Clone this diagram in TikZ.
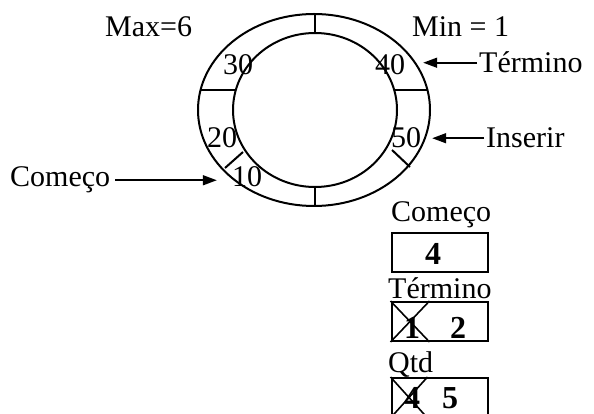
\documentclass[tikz,border=0pt]{standalone}
\usepackage{fontspec}
\setmainfont{Liberation Serif}
\usetikzlibrary{arrows.meta}

\tikzset{
    txt/.style={inner sep=2pt, font=\fontsize{30}{30}\selectfont},
    num/.style={txt, anchor=base},
    val/.style={txt, anchor=base, font=\fontsize{32}{32}\selectfont\bfseries},
    valbox/.style={draw, line width=2pt, minimum width=96pt, minimum height=39pt, inner sep=0pt},
    pointer/.style={line width=1.6pt, -{Triangle[length=14pt,width=10pt]}}
}

\begin{document}
\begin{tikzpicture}[x=1pt, y=-1pt]

        \useasboundingbox (0,0) rectangle (594,414);

        % Anel
        \draw[line width=2pt] (314,110) ellipse (116 and 96);
        \draw[line width=2pt] (315,110) ellipse (82 and 77);

        % Divisoes
        \foreach \xa/\ya/\xb/\yb in {315/14/315/33, 315/187/315/206, 200/90/236/90, 394/90/428/90, 225/168/243/152, 392/150/410/167} {
            \draw[line width=2pt] (\xa,\ya) -- (\xb,\yb);
        }

        % Valores no anel
        \node[num] (n30) at (238,75) {30};
        \node[num] (n40) at (390,75) {40};
        \node[num] (n20) at (222,148) {20};
        \node[num] (n50) at (406,148) {50};
        \node[num] (n10) at (247,187) {10};

        % Max e Min
        \node[txt, anchor=base west] (max) at (103,37) {Max=6};
        \node[txt, anchor=base west] (min) at (410,37) {Min = 1};

        % Ponteiros
        \node[txt, anchor=base west] (comeco) at (8,187) {Começo};
        \draw[pointer] ([xshift=3pt]comeco.east) -- ([xshift=-13pt]n10.west |- comeco.east);

        \node[txt, anchor=base west] (termino) at (477,73) {Término};
        \draw[pointer] (termino.west) -- ([xshift=16pt]n40.east |- termino.west);

        \node[txt, anchor=base west] (inserir) at (484,148) {Inserir};
        \draw[pointer] (inserir.west) -- ([xshift=9pt]n50.east |- inserir.west);

        % Variaveis
        \node[txt, anchor=base west] (lcomeco) at (389,222) {Começo};
        \node[valbox] (bcomeco) at (440,252) {};
        \node[val] (vcomeco) at (433,264) {4};

        \node[txt, anchor=base west] (ltermino) at (386,298) {Término};
        \node[valbox] (btermino) at (439.5,321.5) {};
        \node[val] (vtermino1) at (412,338) {1};
        \node[val] (vtermino2) at (458,338) {2};
        \draw[line width=1.6pt] (btermino.north west) -- ([xshift=39pt]btermino.south west)
            (btermino.south west) -- ([xshift=39pt]btermino.north west);

        \node[txt, anchor=base west] (lqtd) at (386,372) {Qtd};
        \node[valbox] (bqtd) at (439.5,397.5) {};
        \node[val] (vqtd1) at (412,408) {4};
        \node[val] (vqtd2) at (450,408) {5};
        \draw[line width=1.6pt] (bqtd.north west) -- ([xshift=37pt]bqtd.south west)
            (bqtd.south west) -- ([xshift=37pt]bqtd.north west);

    \end{tikzpicture}
\end{document}
